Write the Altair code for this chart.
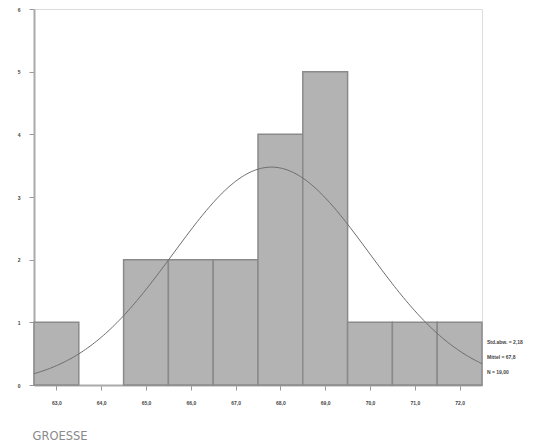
import altair as alt
import pandas as pd

# Histogram data (bin midpoints and counts)
bin_mid = [63, 64, 65, 66, 67, 68, 69, 70, 71, 72]
counts = [1, 0, 2, 2, 2, 4, 5, 1, 1, 1]
bin_width = 1.0

# Normal-curve parameters (as shown in the legend)
mean_val = 67.8
sd_val = 2.18
n_val = 19

legend_lines = ["Std.abw. = 2,18", "Mittel = 67,8", "N = 19,00"]

W, H = 448, 376

bars_df = pd.DataFrame({
    "start": [m - bin_width / 2 for m in bin_mid],
    "end": [m + bin_width / 2 for m in bin_mid],
    "count": counts,
})

xscale = alt.Scale(domain=[62.5, 72.5], nice=False, zero=False)
yscale = alt.Scale(domain=[0, 6], nice=False)

label_color = "#444444"

bars = alt.Chart(bars_df).transform_filter("datum.count > 0").mark_rect(
    fill="#b3b3b3", stroke="#8a8a8a", strokeWidth=1.5
).encode(
    x=alt.X("start:Q", scale=xscale,
            axis=alt.Axis(values=bin_mid, title="GROESSE",
                          labelExpr="replace(format(datum.value, '.1f'), '.', ',')",
                          labelFontSize=5, labelColor=label_color, labelFont="Liberation Sans",
                          labelFontWeight="bold", labelPadding=10,
                          tickSize=5, tickColor="#999999", domainColor="#aaaaaa", domainWidth=2,
                          grid=False,
                          titleFont="DejaVu Sans", titleFontSize=11.5, titleFontWeight="normal",
                          titleColor="#8a8a8a", titleAnchor="start", titleAlign="left",
                          titlePadding=25, titleX=-2)),
    x2="end:Q",
    y=alt.Y("count:Q", scale=yscale,
            axis=alt.Axis(values=[0, 1, 2, 3, 4, 5, 6], title=None, format="d",
                          labelFontSize=5, labelColor=label_color, labelFont="Liberation Sans",
                          labelFontWeight="bold", labelPadding=9,
                          tickSize=5, tickColor="#999999", domainColor="#aaaaaa", domainWidth=2,
                          grid=False)),
    y2=alt.datum(0),
)

curve = alt.Chart(alt.sequence(62.5, 72.51, 0.05, as_="x")).transform_calculate(
    y=f"{n_val}*{bin_width}/({sd_val}*sqrt(2*PI))*exp(-0.5*pow((datum.x-{mean_val})/{sd_val},2))"
).mark_line(color="#6e6e6e", strokeWidth=1).encode(
    x=alt.X("x:Q", scale=xscale),
    y=alt.Y("y:Q", scale=yscale),
)

def legend_text(txt, ypix):
    return alt.Chart(pd.DataFrame({"t": [txt]})).mark_text(
        align="left", baseline="middle", fontSize=5, font="Liberation Sans",
        fontWeight="bold", color=label_color
    ).encode(text="t:N", x=alt.value(W + 5), y=alt.value(ypix))

legend_layers = [legend_text(t, yp) for t, yp in zip(legend_lines, [333, 348, 363])]

chart = alt.layer(bars, curve, *legend_layers).properties(
    width=W, height=H,
    autosize=alt.AutoSizeParams(type="none"),
    padding={"left": 26, "top": 1, "right": 46, "bottom": 60},
).configure_view(stroke="#aaaaaa", strokeWidth=2).configure(background="white")

chart.save("out.html", embed_options={"renderer": "svg", "actions": False})
